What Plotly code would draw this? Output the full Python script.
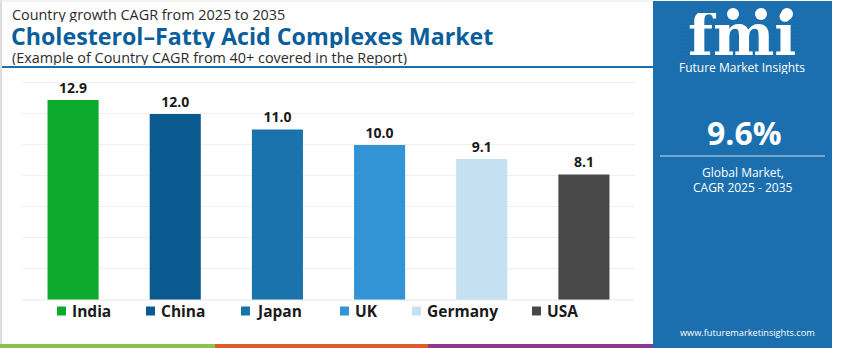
import plotly.graph_objects as go

# Country CAGR values, 2025-2035
countries = ["India", "China", "Japan", "UK", "Germany", "USA"]
cagr = [12.9, 12.0, 11.0, 10.0, 9.1, 8.1]
colors = ["#0caa2d", "#0a5a90", "#1b73ad", "#3294d4", "#c4e0f1", "#484848"]

global_cagr = "9.6%"
title_top = "Country growth CAGR from 2025 to 2035"
title_main = "Cholesterol\u2013Fatty Acid Complexes Market"
title_sub = "(Example of Country CAGR from 40+ covered in the Report)"

W, H = 850, 348
L, R, T, B = 22, 215, 80, 48
PW, PH = W - L - R, H - T - B
PANEL = "#1b6fae"
FONT = "Open Sans"

# left edges of the legend keys along the bottom row (pixels)
legend_x = [57, 146, 241, 340, 412, 532]
legend_y = 311


def px(x):
    return (x - L) / PW


def py(y):
    return (H - B - y) / PH


fig = go.Figure()
for c, v, col in zip(countries, cagr, colors):
    fig.add_trace(go.Bar(
        x=[c], y=[v], name=c, marker=dict(color=col, line=dict(width=0)),
        width=0.5, text=[f"{v:.1f}"], textposition="outside",
        textfont=dict(family=FONT, size=14, color="#1a1a1a", weight="bold"),
        cliponaxis=False, hoverinfo="skip", showlegend=False,
    ))

shapes = [
    # right-hand info panel
    dict(type="rect", xref="paper", yref="paper", x0=px(653), x1=px(832),
         y0=py(348), y1=py(1), fillcolor=PANEL, line=dict(width=0), layer="below"),
    # divider under the headings
    dict(type="line", xref="paper", yref="paper", x0=px(0), x1=px(653),
         y0=py(67), y1=py(67), line=dict(color=PANEL, width=2)),
    # divider inside the panel
    dict(type="line", xref="paper", yref="paper", x0=px(660), x1=px(825),
         y0=py(156), y1=py(156), line=dict(color="rgba(255,255,255,0.8)", width=1)),
    # light frame on the left side
    dict(type="line", xref="paper", yref="paper", x0=px(1), x1=px(1),
         y0=py(0), y1=py(344), line=dict(color="#dddddd", width=2)),
    dict(type="line", xref="paper", yref="paper", x0=px(0), x1=px(653),
         y0=py(1), y1=py(1), line=dict(color="#e6e6e6", width=1)),
    # baseline under the bars
    dict(type="line", xref="paper", yref="paper", x0=0, x1=1,
         y0=py(300), y1=py(300), line=dict(color="#e8e8e8", width=1)),
]
# coloured strip along the bottom edge
for x0, x1, col in [(0, 215, "#8cc152"), (215, 428, "#e05a2b"), (428, 653, "#8b3a8f")]:
    shapes.append(dict(type="rect", xref="paper", yref="paper", x0=px(x0), x1=px(x1),
                       y0=py(348), y1=py(344), fillcolor=col, line=dict(width=0)))

# logo icons above the lettering
for cx in (733, 761, 787):
    shapes.append(dict(type="circle", xref="paper", yref="paper",
                       x0=px(cx - 6), x1=px(cx + 6), y0=py(20), y1=py(8),
                       fillcolor="white", line=dict(width=0)))

# stripes across the logo lettering
for yy in range(24, 58, 4):
    shapes.append(dict(type="line", xref="paper", yref="paper", x0=px(678), x1=px(805),
                       y0=py(yy), y1=py(yy), line=dict(color=PANEL, width=1)))


def note(x, y, text, size, color, bold=False, xanchor="left", family=FONT, box=None):
    a = dict(xref="paper", yref="paper", x=px(x), y=py(y), text=text,
             showarrow=False, xanchor=xanchor, yanchor="middle",
             font=dict(family=family, size=size, color=color,
                       weight="bold" if bold else "normal"))
    if box is not None:
        a["height"] = box
    return a


annotations = [
    note(10, 14, title_top, 14.4, "#2b2b2b", box=16),
    note(9, 36, title_main, 23.2, "#0b5e9c", bold=True, box=24),
    note(10, 57, title_sub, 14.4, "#2b2b2b", box=16),
    note(742, 35, "fmi", 58, "white", bold=True, xanchor="center", family="DejaVu Serif", box=44),
    note(742, 67, "Future Market Insights", 12, "white", xanchor="center", box=14),
    note(744, 132, global_cagr, 32, "white", bold=True, xanchor="center"),
    note(743, 172, "Global Market,", 12, "white", xanchor="center"),
    note(743, 187, "CAGR 2025 - 2035", 12, "white", xanchor="center"),
    note(747, 332, "www.futuremarketinsights.com", 9.2, "white", xanchor="center"),
]

# legend row: coloured key squares with bold country names
for c, col, lx in zip(countries, colors, legend_x):
    shapes.append(dict(type="rect", xref="paper", yref="paper",
                       x0=px(lx), x1=px(lx + 9), y0=py(legend_y + 4.5), y1=py(legend_y - 4.5),
                       fillcolor=col, line=dict(width=0)))
    annotations.append(note(lx + 13, legend_y, c, 15.5, "#1a1a1a", bold=True))

fig.update_layout(
    width=W, height=H, margin=dict(l=L, r=R, t=T, b=B),
    paper_bgcolor="white", plot_bgcolor="white",
    barmode="overlay", bargap=0.5,
    shapes=shapes, annotations=annotations,
    showlegend=False,
    xaxis=dict(categoryorder="array", categoryarray=countries, range=[-0.5, 5.5],
               showticklabels=False, showgrid=False, zeroline=False, fixedrange=True),
    yaxis=dict(range=[0, 14.19], dtick=2, showticklabels=False, showgrid=True,
               gridcolor="#efefef", gridwidth=1, zeroline=False, fixedrange=True),
)

fig.write_html("out.html")
